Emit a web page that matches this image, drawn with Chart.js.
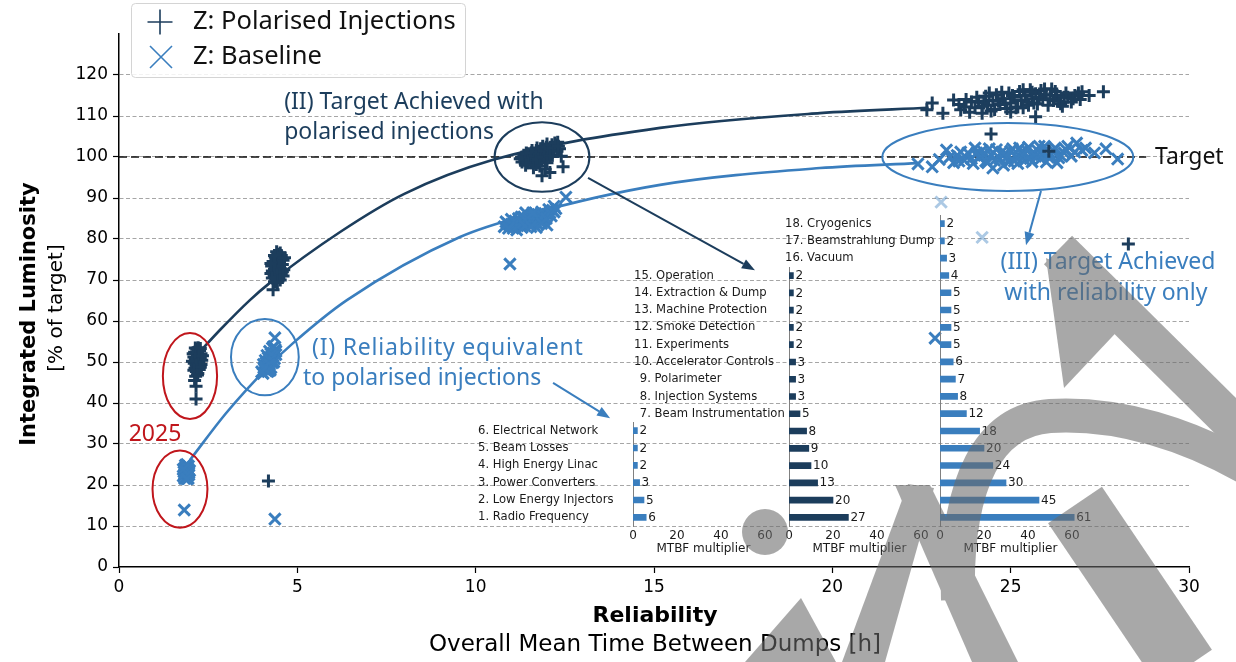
<!DOCTYPE html>
<html>
<head>
<meta charset="utf-8">
<script src="https://cdn.jsdelivr.net/npm/chart.js@4.4.1/dist/chart.umd.min.js"></script>
<style>
  html, body { margin: 0; padding: 0; background: #fff; }
  #wrap { position: relative; width: 1236px; height: 662px; overflow: hidden; }
  #wrap canvas { position: absolute; }
</style>
</head>
<body>
<div id="wrap">
  <canvas id="main" width="1236" height="662" style="left:0;top:0"></canvas>
  <canvas id="inset1"></canvas>
  <canvas id="inset2"></canvas>
  <canvas id="inset3"></canvas>
  <canvas id="stamp" width="1236" height="662" style="left:0;top:0;opacity:0.58;pointer-events:none"></canvas>
</div>
<script>
// ---------------- data ----------------
const xTickValues = [0, 5, 10, 15, 20, 25, 30];
const yTickValues = [0, 10, 20, 30, 40, 50, 60, 70, 80, 90, 100, 110, 120];
const insetTickValues = [0, 20, 40, 60];
const targetLevel = 100;

// fitted luminosity trends (MTBF h, % of target)
const polarisedCurve = [[2.36,53.4],[2.83,57.8],[3.67,65.1],[4.23,69.3],[6.2,81.7],[8.0,91.0],[10.49,99.3],[15.17,107.1],[19.65,110.7],[22.7,112.0]];
const baselineCurve  = [[1.99,26.1],[3.0,37.5],[4.2,49.0],[4.88,54.6],[6.39,65.1],[9.56,80.5],[11.5,86.0],[15.17,93.2],[19.65,97.3],[22.4,98.5]];

// Z: Polarised Injections — simulated runs
const polarised2025 = [[2.18,53.1],[2.26,52.8],[2.12,52.4],[2.30,52.0],[2.20,51.7],[2.10,51.2],[2.28,50.9],[2.16,50.5],[2.24,50.1],[2.11,49.7],[2.30,49.4],[2.18,49.0],[2.13,48.5],[2.25,48.2],[2.17,47.7],[2.21,47.2],[2.15,46.5],
  [2.14,53.4],[2.22,53.5],[2.28,53.3],[2.08,52.0],[2.34,51.5],[2.24,51.4],[2.14,50.8],[2.32,50.4],[2.06,50.2],[2.22,49.6],[2.16,49.2],[2.28,48.7],[2.10,48.0],[2.20,46.8],[2.12,45.5],
  [2.16,44.1],[2.16,41.0]];
const polarisedI = [[4.45,76.3],[4.55,76.0],[4.38,75.6],[4.50,75.2],[4.60,74.8],[4.32,74.5],[4.45,74.2],[4.58,73.8],[4.28,73.4],[4.40,73.1],[4.52,72.8],[4.62,72.5],[4.30,72.2],[4.45,71.8],[4.55,71.5],[4.35,71.0],[4.48,70.6],[4.40,70.2],
  [4.42,76.9],[4.52,76.6],[4.36,76.0],[4.64,75.4],[4.26,74.0],[4.50,73.5],[4.36,72.7],[4.58,72.0],[4.26,71.6],[4.42,71.3],[4.60,71.0],[4.30,70.5],[4.52,70.0],[4.44,69.4],[4.36,69.6],
  [4.32,67.6],[4.19,21.0]];
const polarisedII = [[11.25,99.6],[11.35,100.4],[11.30,98.8],[11.45,99.2],[11.50,100.2],[11.42,101.0],[11.60,99.6],[11.65,100.8],[11.58,101.6],[11.75,100.0],[11.80,101.2],[11.72,102.2],[11.90,100.6],[11.95,101.8],[11.88,102.6],[12.05,101.2],[12.10,102.4],[12.00,103.2],[12.20,101.8],[12.25,102.9],[12.35,102.0],[12.30,103.6],[11.55,98.6],[11.70,98.2],[11.85,99.0],[12.00,99.8],[12.15,100.4],
  [11.30,100.0],[11.38,99.4],[11.48,100.8],[11.52,99.8],[11.56,101.0],[11.66,100.2],[11.70,101.6],[11.78,100.6],[11.82,102.0],[11.84,99.6],[11.92,101.4],[11.98,102.4],[12.02,100.6],[12.08,101.8],[12.14,103.0],[12.18,102.2],[12.28,101.4],[12.22,103.4],[11.68,99.0],[11.76,99.4],[11.92,100.0],[12.08,100.2],[11.46,98.6],[12.32,102.6],[11.80,97.8],[12.00,98.6],
  [11.62,97.4],[11.86,95.4],[12.08,96.2],[12.45,97.6],[12.40,100.2],[11.95,97.0],[11.40,98.0]];
const polarisedIII = [[22.65,111.5],[22.80,113.2],[23.10,110.7],[23.40,113.9],[23.60,111.5],[23.55,112.8],[23.85,110.9],[23.90,113.4],
  [24.0,112.0],[24.1,113.6],[24.2,110.7],[24.3,114.8],[24.35,112.6],[24.5,113.8],[24.55,111.6],[24.6,115.2],[24.7,112.8],[24.8,114.2],[24.9,111.8],[24.95,115.6],[25.0,113.2],[25.1,114.6],[25.2,112.2],[25.25,116.0],[25.3,113.8],[25.4,115.0],[25.5,112.6],[25.55,116.4],[25.6,114.2],[25.7,115.4],[25.75,112.9],[25.85,116.2],[25.9,114.0],[26.0,115.2],[26.05,112.6],[26.15,116.6],[26.2,113.8],[26.3,115.0],[26.4,113.0],[26.5,114.6],[26.6,114.6],[26.7,113.4],[26.8,115.0],[27.0,115.9],[27.6,115.9],[25.7,109.8],[25.0,111.0],
  [24.05,114.6],[24.25,113.2],[24.4,115.6],[24.45,111.2],[24.65,113.6],[24.75,115.8],[24.85,113.0],[25.05,115.0],[25.15,112.0],[25.35,116.4],[25.45,113.4],[25.6,115.8],[25.65,113.2],[25.8,114.6],[25.95,116.6],[26.1,114.2],[26.25,116.0],[26.35,113.6],[26.55,115.6],[26.75,114.2],[26.9,115.6],[26.45,112.4],[25.35,112.0],[24.2,112.4],[23.7,112.2],[23.75,114.0],[27.2,115.0],[26.95,114.0],
  [24.45,105.6],[26.07,101.4],[28.3,78.8]];

// Z: Baseline — simulated runs
const baseline2025 = [[1.90,25.0],[1.95,24.6],[1.85,24.2],[1.92,23.8],[1.98,23.5],[1.82,23.2],[1.90,22.9],[1.96,22.5],[1.80,22.2],[1.88,21.9],[1.94,21.6],[1.84,21.6],
  [1.86,24.8],[1.93,24.0],[1.88,23.4],[1.84,22.7],[1.92,22.2],[1.96,23.0],[1.80,23.8],[1.90,21.5],
  [1.83,13.9],[4.37,11.7]];
const baselineI = [[4.30,53.4],[4.38,53.0],[4.22,52.6],[4.32,52.2],[4.40,51.8],[4.15,51.6],[4.26,51.2],[4.36,50.8],[4.10,50.4],[4.20,50.1],[4.30,49.8],[4.05,49.4],[4.16,49.0],[4.26,48.6],[4.08,48.2],[4.18,47.7],[4.04,47.2],
  [4.34,53.8],[4.26,52.0],[4.40,52.6],[4.18,51.0],[4.32,51.4],[4.12,49.8],[4.24,50.4],[4.34,50.0],[4.10,48.8],[4.22,49.4],[4.14,47.8],[4.24,48.0],[4.06,48.6],[4.00,47.6],
  [4.37,55.9]];
const baselineII = [[10.80,83.0],[10.85,84.2],[10.95,83.4],[11.00,84.8],[11.05,82.6],[11.12,83.8],[11.20,85.0],[11.25,84.0],[11.30,82.8],[11.35,85.4],[11.42,84.4],[11.50,83.4],[11.55,85.8],[11.60,84.8],[11.68,86.2],[11.72,83.8],[11.80,85.2],[11.85,86.6],[11.92,84.6],[12.00,86.0],[12.05,87.2],[12.12,85.6],[12.20,86.6],[11.40,86.4],[11.15,82.2],[11.70,82.8],[12.00,83.4],[12.20,88.0],
  [10.90,83.8],[11.00,83.6],[11.10,84.4],[11.18,83.2],[11.28,85.4],[11.32,84.0],[11.45,85.0],[11.48,84.0],[11.62,85.4],[11.65,84.0],[11.75,86.0],[11.78,84.4],[11.88,85.6],[11.98,85.0],[12.08,86.4],[12.15,87.0],[11.60,86.4],[11.38,83.2],[11.55,83.0],[11.85,83.8],[12.25,87.4],[10.92,82.6],
  [12.53,90.2],[10.96,73.9]];
const baselineIII = [[22.4,98.3],[22.8,97.6],[23.0,99.4],[23.2,101.7],[23.4,98.6],[23.5,100.4],[23.7,99.2],[23.8,101.0],[23.95,98.4],[24.1,100.0],[24.2,101.6],[24.3,99.0],[24.45,100.6],[24.5,97.3],[24.6,101.8],[24.7,99.6],[24.85,100.9],[24.95,98.8],[25.05,102.0],[25.15,100.0],[25.3,101.2],[25.4,99.2],[25.5,102.4],[25.6,100.6],[25.75,101.6],[25.85,99.6],[25.95,102.6],[26.0,98.8],[26.1,101.0],[26.25,102.2],[26.4,100.4],[26.55,101.8],[26.7,100.2],[26.85,103.4],[27.1,102.2],[27.35,101.0],[27.67,102.0],[28.0,99.5],[24.0,102.2],[25.2,98.4],
  [23.3,100.0],[23.6,101.2],[23.9,99.6],[24.05,101.0],[24.25,100.4],[24.4,102.0],[24.55,99.2],[24.75,101.2],[24.9,100.0],[25.0,101.4],[25.1,99.0],[25.25,102.2],[25.35,100.4],[25.45,101.6],[25.55,99.6],[25.7,100.2],[25.8,102.6],[25.9,101.0],[26.05,100.0],[26.2,101.6],[26.35,99.8],[26.5,101.0],[26.6,102.6],[26.8,101.2],[27.0,101.6],[23.55,99.0],[24.35,98.6],[25.6,98.8],[26.3,98.6],[24.8,98.0],
  [22.88,55.8]];
const baselineFaint = [[23.05,89.0],[24.2,80.4]];

// MTBF multipliers per system (index 0 = system 1)
const systemNames = ['1. Radio Frequency','2. Low Energy Injectors','3. Power Converters','4. High Energy Linac','5. Beam Losses','6. Electrical Network','7. Beam Instrumentation','8. Injection Systems','9. Polarimeter','10. Accelerator Controls','11. Experiments','12. Smoke Detection','13. Machine Protection','14. Extraction & Dump','15. Operation','16. Vacuum','17. Beamstrahlung Dump','18. Cryogenics'];
const multiplierI   = [6, 5, 3, 2, 2, 2];
const multiplierII  = [27, 20, 13, 10, 9, 8, 5, 3, 3, 3, 2, 2, 2, 2, 2];
const multiplierIII = [61, 45, 30, 24, 20, 18, 12, 8, 7, 6, 5, 5, 5, 5, 4, 3, 2, 2];

// ---------------- styles ----------------
const NAVY = '#1c3d5c', BLUE = '#3a7ebe', FAINT = 'rgba(58,126,190,0.42)', RED = '#c0161c';
const TICK_FONT = {family: 'DejaVu Sans', size: 17};
const NOTE_FONT = '"Noto Sans", sans-serif';
const toXY = a => a.map(p => ({x: p[0], y: p[1]}));

// annotation shapes in data units
const ellipses = [
  {cx: 1.99, cy: 46.6, rx: 0.76, ry: 10.5, color: RED},
  {cx: 1.71, cy: 19.0, rx: 0.77, ry: 9.4, color: RED},
  {cx: 4.09, cy: 51.2, rx: 0.95, ry: 9.3, color: BLUE},
  {cx: 11.86, cy: 100.0, rx: 1.33, ry: 8.5, color: NAVY},
  {cx: 24.92, cy: 100.0, rx: 3.52, ry: 8.3, color: BLUE}
];
const arrows = [
  {from: [13.15, 94.9], to: [17.83, 72.4], color: NAVY},
  {from: [12.17, 44.9], to: [13.77, 36.3], color: BLUE},
  {from: [25.85, 91.7], to: [25.43, 78.5], color: BLUE}
];
const notes = [
  {text: '(II) Target Achieved with', x: 4.63, y: 113.2, align: 'left', color: NAVY},
  {text: 'polarised injections', x: 4.63, y: 106.1, align: 'left', color: NAVY},
  {text: '(I) Reliability equivalent', x: 5.41, y: 53.2, align: 'left', color: BLUE, spacing: 0.8},
  {text: 'to polarised injections', x: 5.16, y: 45.9, align: 'left', color: BLUE},
  {text: '(III) Target Achieved', x: 27.73, y: 74.4, align: 'center', color: BLUE},
  {text: 'with reliability only', x: 27.67, y: 66.8, align: 'center', color: BLUE},
  {text: 'Target', x: 29.05, y: 100.0, align: 'left', color: '#111'},
  {text: '2025', x: 1.01, y: 32.4, align: 'center', color: RED}
];

const decorations = {
  id: 'decorations',
  afterDraw(chart) {
    const {ctx, scales: {x, y}} = chart;
    const px = v => x.getPixelForValue(v), py = v => y.getPixelForValue(v);
    ctx.save();
    // ellipses
    ellipses.forEach(e => {
      ctx.beginPath();
      ctx.ellipse(px(e.cx), py(e.cy), px(e.cx + e.rx) - px(e.cx), py(e.cy) - py(e.cy + e.ry), 0, 0, Math.PI * 2);
      ctx.lineWidth = 2; ctx.strokeStyle = e.color; ctx.stroke();
    });
    // arrows
    arrows.forEach(a => {
      const x1 = px(a.from[0]), y1 = py(a.from[1]), x2 = px(a.to[0]), y2 = py(a.to[1]);
      const ang = Math.atan2(y2 - y1, x2 - x1), hl = 13, hw = 5;
      ctx.strokeStyle = a.color; ctx.fillStyle = a.color; ctx.lineWidth = 2;
      ctx.beginPath(); ctx.moveTo(x1, y1);
      ctx.lineTo(x2 - hl * Math.cos(ang), y2 - hl * Math.sin(ang)); ctx.stroke();
      ctx.beginPath(); ctx.moveTo(x2, y2);
      ctx.lineTo(x2 - hl * Math.cos(ang) + hw * Math.sin(ang), y2 - hl * Math.sin(ang) - hw * Math.cos(ang));
      ctx.lineTo(x2 - hl * Math.cos(ang) - hw * Math.sin(ang), y2 - hl * Math.sin(ang) + hw * Math.cos(ang));
      ctx.closePath(); ctx.fill();
    });
    // notes
    ctx.font = '23px ' + NOTE_FONT; ctx.textBaseline = 'middle';
    notes.forEach(n => {
      ctx.letterSpacing = (n.spacing || 0) + 'px';
      ctx.fillStyle = n.color; ctx.textAlign = n.align; ctx.fillText(n.text, px(n.x), py(n.y));
    });
    ctx.letterSpacing = '0px';
    // axis titles
    ctx.fillStyle = '#000'; ctx.textAlign = 'center';
    ctx.font = 'bold 22px "DejaVu Sans"'; ctx.fillText('Reliability', 655, 616);
    ctx.font = '23px "DejaVu Sans"'; ctx.fillText('Overall Mean Time Between Dumps [h]', 655, 645);
    ctx.save(); ctx.translate(30, 314); ctx.rotate(-Math.PI / 2);
    ctx.font = 'bold 21px "DejaVu Sans"'; ctx.fillText('Integrated Luminosity', 0, 0); ctx.restore();
    ctx.save(); ctx.translate(57, 308); ctx.rotate(-Math.PI / 2);
    ctx.font = '20px "DejaVu Sans"'; ctx.fillText('[% of target]', 0, 0); ctx.restore();
    // legend
    ctx.beginPath(); ctx.roundRect(131.5, 3.5, 334, 74, 4);
    ctx.fillStyle = 'rgba(255,255,255,0.85)'; ctx.fill();
    ctx.strokeStyle = '#d4d4d4'; ctx.lineWidth = 1; ctx.stroke();
    ctx.lineWidth = 1.6;
    ctx.strokeStyle = NAVY; ctx.beginPath();
    ctx.moveTo(147.5, 22); ctx.lineTo(172.5, 22); ctx.moveTo(160, 9.5); ctx.lineTo(160, 34.5); ctx.stroke();
    ctx.strokeStyle = BLUE; ctx.beginPath();
    ctx.moveTo(150, 46); ctx.lineTo(172, 68); ctx.moveTo(172, 46); ctx.lineTo(150, 68); ctx.stroke();
    ctx.fillStyle = '#111'; ctx.textAlign = 'left'; ctx.font = '25.5px ' + NOTE_FONT;
    ctx.fillText('Z: Polarised Injections', 193, 22);
    ctx.fillText('Z: Baseline', 193, 57);
    ctx.restore();
  }
};

new Chart(document.getElementById('main'), {
  type: 'scatter',
  data: {
    datasets: [
      {label: 'Z: Polarised Injections', data: toXY([...polarised2025, ...polarisedI, ...polarisedII, ...polarisedIII]),
        pointStyle: 'cross', pointRadius: 6.5, borderWidth: 3, pointBorderWidth: 3, borderColor: NAVY, backgroundColor: NAVY},
      {label: 'Z: Baseline', data: toXY([...baseline2025, ...baselineI, ...baselineII, ...baselineIII]),
        pointStyle: 'crossRot', pointRadius: 8, borderWidth: 3, pointBorderWidth: 3, borderColor: BLUE, backgroundColor: BLUE},
      {label: 'faint', data: toXY(baselineFaint),
        pointStyle: 'crossRot', pointRadius: 8, borderWidth: 3, pointBorderWidth: 3, borderColor: FAINT, backgroundColor: FAINT},
      {label: 'polarised trend', data: toXY(polarisedCurve), showLine: true, pointRadius: 0,
        borderColor: NAVY, borderWidth: 2.6, cubicInterpolationMode: 'monotone'},
      {label: 'baseline trend', data: toXY(baselineCurve), showLine: true, pointRadius: 0,
        borderColor: BLUE, borderWidth: 2.6, cubicInterpolationMode: 'monotone'},
      {label: 'Target', data: [{x: 0, y: targetLevel}, {x: 28.8, y: targetLevel}], showLine: true, pointRadius: 0,
        borderColor: '#111', borderWidth: 1.6, borderDash: [8, 4]}
    ]
  },
  options: {
    responsive: false, animation: false, events: [],
    layout: {padding: {top: 34, right: 47, left: 0, bottom: 0}},
    plugins: {legend: {display: false}, tooltip: {enabled: false}},
    scales: {
      x: {
        type: 'linear', min: 0, max: 30,
        afterBuildTicks: s => { s.ticks = xTickValues.map(v => ({value: v})); },
        afterFit: s => { s.height = 95; },
        ticks: {font: TICK_FONT, color: '#000', padding: 4, maxRotation: 0},
        grid: {drawOnChartArea: false, drawTicks: true, tickLength: 6, tickColor: '#000', tickWidth: 1.2},
        border: {color: '#000', width: 1.5}
      },
      y: {
        type: 'linear', min: 0, max: 130,
        afterBuildTicks: s => { s.ticks = yTickValues.map(v => ({value: v})); },
        afterFit: s => { s.width = 119; },
        ticks: {font: TICK_FONT, color: '#000', padding: 5},
        grid: {color: c => (c.tick && c.tick.value === 0) ? 'rgba(0,0,0,0)' : '#a6a6a6', lineWidth: 1,
          drawTicks: true, tickLength: 6, tickColor: '#000', tickWidth: 1.2},
        border: {color: '#000', width: 1.5, dash: [4, 2.5]}
      }
    }
  },
  plugins: [decorations]
});

// ---------------- MTBF multiplier insets ----------------
const valueLabels = {
  id: 'valueLabels',
  afterDatasetsDraw(chart) {
    const ctx = chart.ctx, meta = chart.getDatasetMeta(0), vals = chart.data.datasets[0].data;
    ctx.save();
    ctx.font = '12px "DejaVu Sans"'; ctx.fillStyle = '#1a1a1a';
    ctx.textBaseline = 'middle'; ctx.textAlign = 'left';
    meta.data.forEach((bar, i) => ctx.fillText(String(vals[i]), bar.x + 2, bar.y + 0.5));
    ctx.restore();
  }
};

const INSET_MAX = 64, UNIT_PX = 2.2, ROW_H = 17.25, BAND_BOTTOM = 525.5;
function makeInset(id, values, color, firstLabelled, spineX) {
  const n = values.length, labelW = 155, rightW = 30, axisH = 30, topPad = 16;
  const plotW = INSET_MAX * UNIT_PX;
  const mixedDigits = firstLabelled < 9 && n > 9;
  const cv = document.getElementById(id);
  cv.width = Math.round(labelW + plotW + rightW);
  cv.height = Math.round(topPad + n * ROW_H + axisH);
  cv.style.left = (spineX - labelW) + 'px';
  cv.style.top = (BAND_BOTTOM - n * ROW_H - topPad) + 'px';
  const smallFont = {family: 'DejaVu Sans', size: 12};
  const labelFont = {family: 'DejaVu Sans', size: 11.6};
  new Chart(cv, {
    type: 'bar',
    data: {labels: systemNames.slice(0, n), datasets: [{data: values, backgroundColor: color, barThickness: 6}]},
    options: {
      indexAxis: 'y', responsive: false, animation: false, events: [],
      layout: {padding: {top: topPad, right: cv.width - labelW - plotW, left: 0, bottom: 0}},
      plugins: {legend: {display: false}, tooltip: {enabled: false}},
      scales: {
        y: {
          reverse: true,
          afterFit: s => { s.width = labelW; },
          grid: {display: false, drawTicks: false},
          border: {display: true, color: '#808080', width: 1},
          ticks: {autoSkip: false, padding: 5, font: labelFont, color: '#1a1a1a', crossAlign: 'far',
            callback: (v, i) => i < firstLabelled ? '' : ((mixedDigits && i < 9) ? '\u2002' : '') + systemNames[i]}
        },
        x: {
          min: 0, max: INSET_MAX,
          afterBuildTicks: s => { s.ticks = insetTickValues.map(v => ({value: v})); },
          afterFit: s => { s.height = axisH; },
          grid: {display: false, drawTicks: false},
          border: {display: false},
          ticks: {padding: 3, font: smallFont, color: '#1a1a1a', maxRotation: 0},
          title: {display: true, text: 'MTBF multiplier', font: smallFont, color: '#1a1a1a', padding: 0}
        }
      }
    },
    plugins: [valueLabels]
  });
}
makeInset('inset1', multiplierI, BLUE, 0, 633);
makeInset('inset2', multiplierII, NAVY, 6, 788.5);
makeInset('inset3', multiplierIII, BLUE, 15, 940);

// ---------------- draft stamp ----------------
(function drawStamp() {
  const c = document.getElementById('stamp').getContext('2d');
  c.fillStyle = '#6a6a6a'; c.strokeStyle = '#6a6a6a';
  const poly = pts => { c.beginPath(); c.moveTo(pts[0][0], pts[0][1]); pts.slice(1).forEach(p => c.lineTo(p[0], p[1])); c.closePath(); c.fill(); };
  c.beginPath(); c.arc(765, 532, 23, 0, Math.PI * 2); c.fill();
  poly([[908, 484], [934, 488], [885, 662], [842, 662]]);
  poly([[801, 598], [836, 662], [745, 662]]);
  poly([[895, 485], [930, 485], [1018, 662], [972, 662]]);
  c.lineWidth = 34; c.lineCap = 'butt';
  c.beginPath(); c.moveTo(958, 600);
  c.bezierCurveTo(955, 480, 990, 420, 1050, 416);
  c.bezierCurveTo(1120, 412, 1190, 435, 1250, 470); c.stroke();
  c.lineWidth = 40;
  c.beginPath(); c.moveTo(1058, 250); c.lineTo(1250, 440); c.stroke();
  poly([[1046, 258], [1064, 388], [1142, 305]]);
  c.lineWidth = 65;
  c.beginPath(); c.moveTo(1075, 505); c.lineTo(1185, 668); c.stroke();
})();
</script>
</body>
</html>
